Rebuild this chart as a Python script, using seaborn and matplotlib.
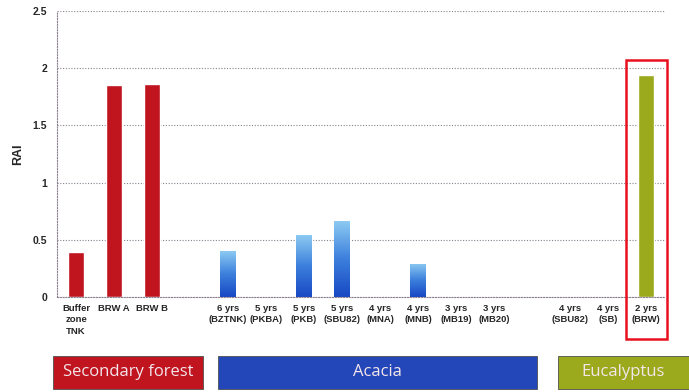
import numpy as np
import pandas as pd
import matplotlib
matplotlib.use("Agg")
import matplotlib.pyplot as plt
from matplotlib.patches import Rectangle
import seaborn as sns

# Site labels (with two spacer slots between land-use groups)
labels = ["Buffer\nzone\nTNK", "BRW A", "BRW B", "gap1",
          "6 yrs\n(BZTNK)", "5 yrs\n(PKBA)", "5 yrs\n(PKB)", "5 yrs\n(SBU82)",
          "4 yrs\n(MNA)", "4 yrs\n(MNB)", "3 yrs\n(MB19)", "3 yrs\n(MB20)", "gap2",
          "4 yrs\n(SBU82)", "4 yrs\n(SB)", "2 yrs\n(BRW)"]
groups = ["Secondary forest"] * 3 + [None] + ["Acacia"] * 8 + [None] + ["Eucalyptus"] * 3
rai = [0.39, 1.85, 1.86, None,
       0.40, 0.0, 0.54, 0.66, 0.0, 0.29, 0.0, 0.0, None,
       0.0, 0.0, 1.94]

group_names = ["Secondary forest", "Acacia", "Eucalyptus"]
group_colors = {"Secondary forest": "#c0141f", "Acacia": "#2346b8", "Eucalyptus": "#9ba91c"}

df = pd.DataFrame({"site": labels, "group": groups, "RAI": rai}).dropna()

sns.set_theme(style="white")
plt.rcParams["font.family"] = ["Liberation Sans", "DejaVu Sans"]

fig = plt.figure(figsize=(6.89, 3.92), dpi=100)
ax = fig.add_axes([57 / 689, 95 / 392, 608 / 689, 286 / 392])

sns.barplot(data=df, x="site", y="RAI", hue="group", order=labels,
            hue_order=group_names, palette=group_colors, dodge=False,
            width=0.42, legend=False, ax=ax, saturation=1)

# Acacia bars get a vertical light-to-dark blue gradient
grad_cmap = matplotlib.colors.LinearSegmentedColormap.from_list(
    "acacia", ["#1848c4", "#3c7fdc", "#8ccaf2"])
grad = np.linspace(0, 1, 256).reshape(-1, 1)
for patch in ax.patches:
    fc = matplotlib.colors.to_hex(patch.get_facecolor())
    if fc == group_colors["Acacia"] and patch.get_height() > 0:
        x0, y0 = patch.get_x(), patch.get_y()
        w, h = patch.get_width(), patch.get_height()
        im = ax.imshow(grad, cmap=grad_cmap, origin="lower", aspect="auto",
                       extent=[x0, x0 + w, y0, y0 + h], zorder=patch.get_zorder())
        im.set_clip_path(patch)
        patch.set_facecolor("none")

ax.set_xlim(-0.5, len(labels) - 0.5)
ax.set_ylim(0, 2.5)
ax.set_yticks([0, 0.5, 1, 1.5, 2, 2.5])
ax.set_yticklabels(["0", "0.5", "1", "1.5", "2", "2.5"], fontsize=7.5, fontweight="bold")
ax.set_xticks(range(len(labels)))
ax.set_xticklabels([l if not l.startswith("gap") else "" for l in labels],
                   fontsize=6.8, fontweight="bold", linespacing=1.35)
ax.tick_params(axis="x", length=0, pad=5)
ax.tick_params(axis="y", length=0, pad=7)
ax.set_xlabel("")
ax.set_ylabel("RAI", fontsize=9, fontweight="bold", labelpad=6)

ax.yaxis.grid(True, linestyle=(0, (1, 1.5)), color="#8a8090", linewidth=0.8)
ax.set_axisbelow(True)
for side in ["top", "right"]:
    ax.spines[side].set_visible(False)
for side in ["left", "bottom"]:
    ax.spines[side].set_linestyle((0, (1, 1.5)))
    ax.spines[side].set_color("#8a8090")
    ax.spines[side].set_linewidth(0.8)

# Red frame highlighting the Eucalyptus 2-year site
ax.add_patch(Rectangle((14.47, -0.37), 1.08, 2.44, fill=False, edgecolor="#e8101e",
                       linewidth=1.8, clip_on=False, zorder=5))

# Group legend boxes below the axis
boxes = [("Secondary forest", 53, 203), ("Acacia", 218, 537), ("Eucalyptus", 558, 700)]
for name, px0, px1 in boxes:
    fig.patches.append(Rectangle((px0 / 689, (392 - 389) / 392), (px1 - px0) / 689, 33 / 392,
                                 transform=fig.transFigure, facecolor=group_colors[name],
                                 edgecolor="#505050", linewidth=0.6))
    cx = (px0 + min(px1, 689)) / 2 / 689
    fig.text(cx, (392 - 372) / 392, name, ha="center", va="center", fontsize=12,
             color="#f4e6ea", family=["Open Sans", "DejaVu Sans"])

fig.savefig("out.png", dpi=100)
